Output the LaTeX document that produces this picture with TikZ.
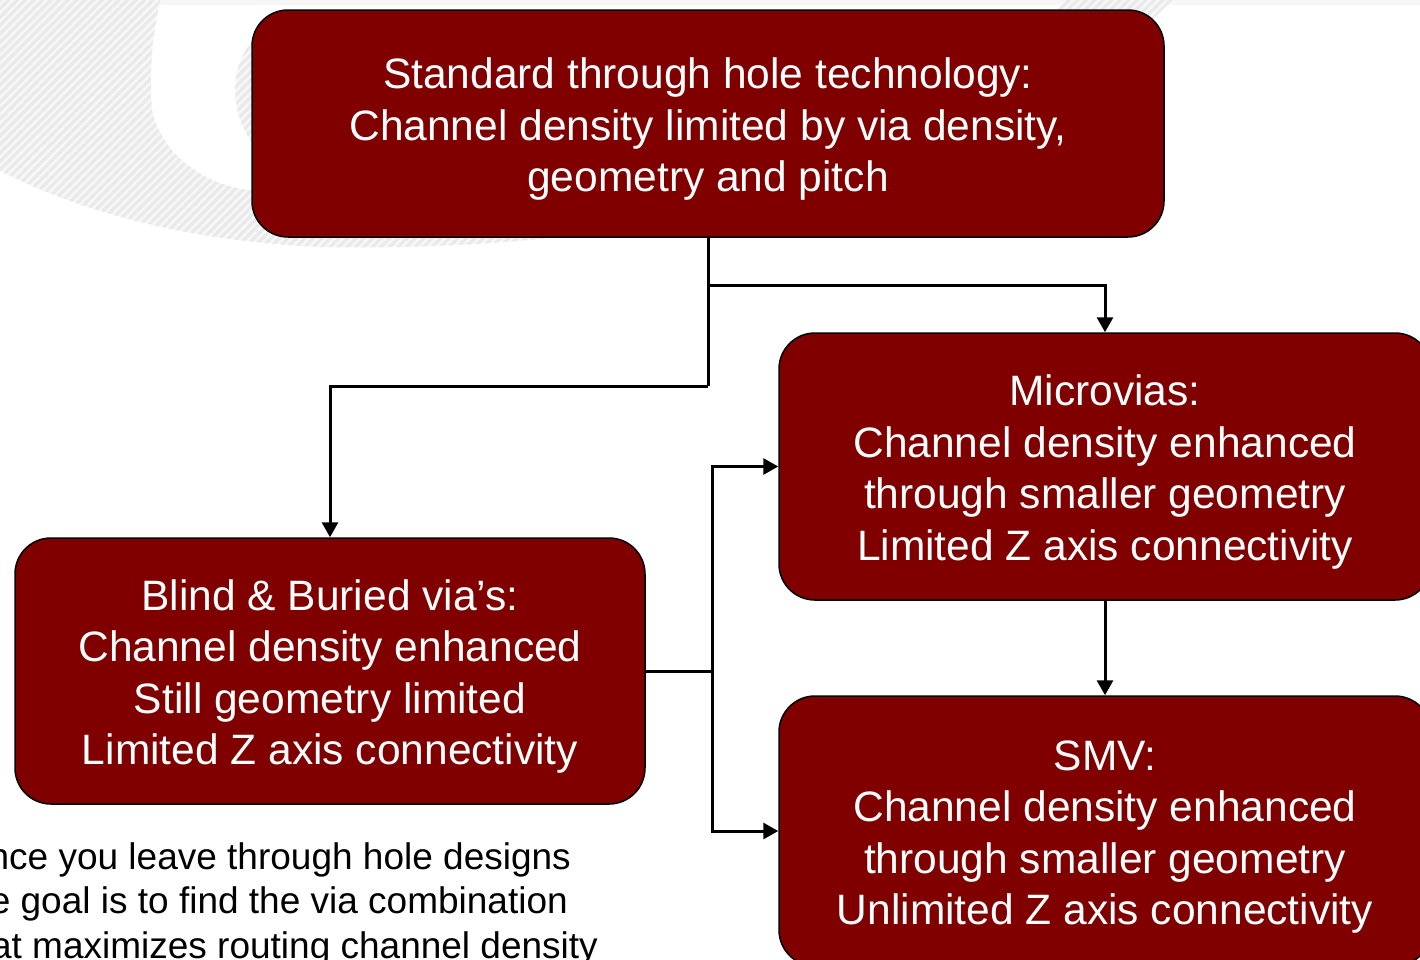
\documentclass[tikz,border=0pt]{standalone}
\usepackage{fontspec}
\setmainfont{Liberation Sans}
\newfontfamily\notefont{Liberation Sans}
\usetikzlibrary{arrows.meta,patterns.meta}

\definecolor{boxred}{HTML}{800000}
\definecolor{bandbg}{HTML}{F7F7F7}
\definecolor{bandline}{HTML}{E9E9E9}

% invisible strut that pushes the box text a little lower
\newcommand{\boxstrut}{\rule{0pt}{42pt}}

\tikzset{
  vbox/.style={draw=black, line width=1.5pt, fill=boxred, rounded corners=36pt,
    text=white, align=center, inner sep=0pt,
    font=\fontsize{42.5}{51.5}\selectfont},
  conn/.style={line width=3pt, draw=black},
  arr/.style={conn, -{Triangle[width=16pt,length=15pt]}},
  note/.style={inner sep=0pt, text=black, font=\notefont\fontsize{37}{44}\selectfont},
  band/.style={fill=bandbg, draw=none,
    postaction={pattern={Lines[angle=45,distance=6pt,line width=3pt]}, pattern color=bandline}},
}

\begin{document}
\begin{tikzpicture}[x=1pt,y=-1pt]
\useasboundingbox (0,0) rectangle (1420,959);
\clip (0,0) rectangle (1420,959);

% faint striped swoosh in the background
\fill[black!3] (0,0) rectangle (1420,5);
\path[band] (-20,160) .. controls (60,205) and (170,240) .. (320,247)
  .. controls (700,255) and (1050,150) .. (1190,-20)
  -- (1085,-20) .. controls (950,150) and (500,200) .. (250,190)
  .. controls (200,185) and (160,150) .. (152,110)
  .. controls (148,60) and (155,20) .. (165,-20)
  -- (-20,-20) -- cycle;
\path[band] (254,40) .. controls (232,60) and (226,110) .. (254,145) -- cycle;

% boxes
\node[vbox, minimum width=912pt, minimum height=227pt] (top) at (708,123.5)
  {\boxstrut Standard through hole technology:\\Channel density limited by via density,\\geometry and pitch};
\node[vbox, minimum width=652pt, minimum height=267pt] (micro) at (1105,466.5)
  {\boxstrut Microvias:\\Channel density enhanced\\through smaller geometry\\Limited Z axis connectivity};
\node[vbox, minimum width=652pt, minimum height=270pt] (smv) at (1105,831)
  {\boxstrut SMV:\\Channel density enhanced\\through smaller geometry\\Unlimited Z axis connectivity};
\node[vbox, minimum width=630pt, minimum height=266pt] (blind) at (330,671)
  {\boxstrut Blind \& Buried via’s:\\Channel density enhanced\\Still geometry limited\\Limited Z axis connectivity};

% connectors
\coordinate (splitA) at (708,386);
\coordinate (splitB) at (708,285);
\coordinate (splitC) at (712,671);
\draw[conn] (top.south) -- (splitA);
\draw[arr] (splitA) -| (blind.north);
\draw[arr] (splitB) -| (micro.north);
\draw[arr] (micro.south) -- (smv.north);
\draw[conn] (blind.east) -- (splitC);
\draw[arr] (splitC) |- (micro.west);
\draw[arr] (splitC) |- (smv.west);

% note below the left box
\node[note, anchor=base east] (noteA) at (571,869) {Once you leave through hole designs};
\node[note, anchor=base east] (noteB) at (568,913) {The goal is to find the via combination};
\node[note, anchor=base east] (noteC) at (598,958) {that maximizes routing channel density};
\end{tikzpicture}
\end{document}
